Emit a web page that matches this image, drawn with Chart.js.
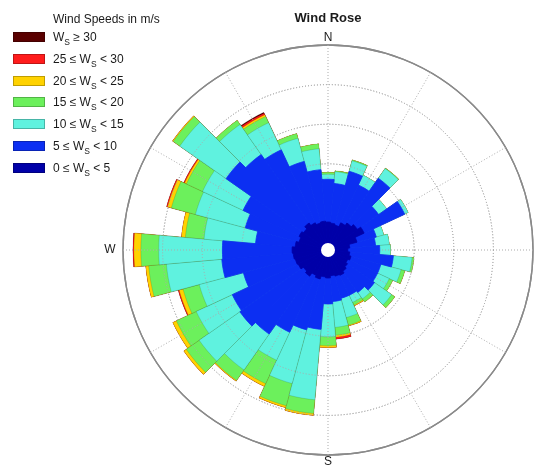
<!DOCTYPE html>
<html>
<head>
<meta charset="utf-8">
<title>Wind Rose</title>
<script src="https://cdn.jsdelivr.net/npm/chart.js@4.4.1/dist/chart.umd.min.js"></script>
<style>
  html, body { margin: 0; padding: 0; background: #fff; }
  #wrap { position: relative; width: 537px; height: 466px; overflow: hidden;
          font-family: "Liberation Sans", Arial, sans-serif; color: #1a1a1a; }
  #rose { position: absolute; left: 0; top: 0; }
  #title { position: absolute; left: 228px; width: 200px; top: 10px; text-align: center;
           font-weight: bold; font-size: 13px; line-height: 16px; }
  #legendTitle { position: absolute; left: 53px; top: 12px; font-size: 12px; line-height: 14px; white-space: nowrap; }
  .row { position: absolute; left: 13px; height: 12px; }
  .sw { position: absolute; left: 0; top: 0; width: 32px; height: 10px; box-sizing: border-box;
        border: 1px solid rgba(0,0,0,0.25); }
  .lab { position: absolute; left: 40px; top: -3px; font-size: 12px; line-height: 16px; white-space: nowrap; }
  .lab sub { font-size: 8.5px; vertical-align: -4px; line-height: 0; }
</style>
</head>
<body>
<div id="wrap">
  <canvas id="rose" width="537" height="466"></canvas>
  <div id="title">Wind Rose</div>
  <div id="legendTitle">Wind Speeds in m/s</div>
  <div id="legend"></div>
</div>
<script>
// Direction sectors (degrees, clockwise from north), 10° wide, centred on each value
const DIRECTIONS = [0,10,20,30,40,50,60,70,80,90,100,110,120,130,140,150,160,170,
                    180,190,200,210,220,230,240,250,260,270,280,290,300,310,320,330,340,350];

// Frequency (%) of each wind-speed class per direction sector
const FREQ_0_5   = [1.06,1.01,0.95,1.16,1.31,1.46,1.66,1.16,0.75,0.65,0.75,0.85,0.75,0.85,0.95,1.06,1.01,0.95,
                    1.06,1.01,1.16,1.06,1.26,1.16,1.31,1.36,1.41,1.46,1.31,1.16,1.26,1.16,1.31,1.16,1.06,1.11];
const FREQ_5_10  = [2.16,2.01,2.81,2.11,2.76,1.31,2.26,1.01,1.31,1.61,2.21,1.56,1.66,1.66,1.31,1.11,1.16,1.31,
                    1.31,2.66,2.66,3.17,3.57,3.92,3.67,2.71,3.62,3.52,2.01,2.81,3.12,4.77,4.22,4.07,3.22,2.61];
const FREQ_10_15 = [0.25,0.60,0.55,0.55,0.60,0.50,0.20,0.40,0.70,0.55,0.95,1.06,0.65,1.06,0.40,0.40,1.01,1.31,
                    1.66,3.57,2.81,1.56,2.21,2.51,2.01,2.31,2.81,3.22,2.61,2.61,2.26,2.86,1.86,1.51,1.21,1.06];
const FREQ_15_20 = [0.10,0.05,0.05,0,0.03,0,0,0,0,0,0.10,0.20,0.20,0.20,0.20,0.15,0.40,0.40,
                    0.45,0.70,1.16,1.31,0.65,0.80,1.11,0.85,0.90,0.90,0.95,1.26,0.90,0.40,0.25,0.35,0.25,0.25];
const FREQ_20_25 = [0,0,0,0,0,0,0,0,0,0,0,0,0,0,0,0.05,0.05,0.10,
                    0.10,0.10,0.10,0.15,0.05,0.15,0.20,0.20,0.15,0.35,0.20,0.20,0.10,0.05,0,0.10,0,0];
const FREQ_25_30 = [0,0,0,0,0,0,0,0,0,0,0,0,0,0,0,0,0,0.10,
                    0,0,0,0,0,0,0,0.05,0,0.05,0,0.05,0.05,0,0,0.08,0,0];
const FREQ_30_UP = [0,0,0,0,0,0,0,0,0,0,0,0,0,0,0,0,0,0,
                    0,0,0,0,0,0,0,0,0,0,0,0,0,0,0,0.05,0,0];

// Speed classes, slowest first
const SPEED_BINS   = [FREQ_0_5, FREQ_5_10, FREQ_10_15, FREQ_15_20, FREQ_20_25, FREQ_25_30, FREQ_30_UP];
const SPEED_LABELS = ['0 ≤ W<sub>S</sub> &lt; 5', '5 ≤ W<sub>S</sub> &lt; 10', '10 ≤ W<sub>S</sub> &lt; 15',
                      '15 ≤ W<sub>S</sub> &lt; 20', '20 ≤ W<sub>S</sub> &lt; 25', '25 ≤ W<sub>S</sub> &lt; 30',
                      'W<sub>S</sub> ≥ 30'];
const SPEED_COLORS = ['#0000a8', '#0c2ff2', '#5ff2df', '#6cf05c', '#ffd200', '#ff1c1c', '#5a0000'];

// Radial axis: frequency rings every 2 %, small empty hole in the middle
const RING_TICKS = [0, 2, 4, 6, 8, 10];
const R_MAX = 10;
const R_HOLE = 0.353;
const SPOKES = [0, 30, 60, 90, 120, 150, 180, 210, 240, 270, 300, 330];
const COMPASS = [['N', 0], ['S', 180], ['W', 270]];

const GRID_COLOR = '#ababab';
const RIM_COLOR = '#8a8a8a';

// Stack the classes: each ring of the rose reaches the cumulative frequency
const cumulative = [];
SPEED_BINS.forEach((bin, k) => {
  cumulative.push(bin.map((v, i) => (k ? cumulative[k - 1][i] : 0) + v));
});

const datasets = cumulative.map((vals, k) => ({
  label: SPEED_LABELS[k],
  data: vals,
  backgroundColor: SPEED_COLORS[k],
  borderColor: k < 2 ? SPEED_COLORS[k] : 'rgba(0,0,0,0.2)',
  borderWidth: (ctx) => (k < 2 ? 0.8 : (SPEED_BINS[k][ctx.dataIndex] > 0 ? 0.6 : 0))
}));

// Dotted grid is laid over the outer classes, under the two slowest ones
const roseOverlay = {
  id: 'roseOverlay',
  afterDatasetDraw(chart, args) {
    if (args.index !== 2) return;
    const r = chart.scales.r;
    const ctx = chart.ctx;
    r.drawGrid();
    const R = r.drawingArea;
    ctx.save();
    ctx.strokeStyle = GRID_COLOR;
    ctx.lineWidth = 1;
    ctx.setLineDash([1, 2]);
    SPOKES.forEach((deg) => {
      const a = deg * Math.PI / 180;
      ctx.beginPath();
      ctx.moveTo(r.xCenter, r.yCenter);
      ctx.lineTo(r.xCenter + Math.sin(a) * R, r.yCenter - Math.cos(a) * R);
      ctx.stroke();
    });
    ctx.restore();
  },
  afterDatasetsDraw(chart) {
    const r = chart.scales.r;
    const ctx = chart.ctx;
    ctx.save();
    ctx.fillStyle = '#ffffff';
    ctx.beginPath();
    ctx.arc(r.xCenter, r.yCenter, r.getDistanceFromCenterForValue(0), 0, Math.PI * 2);
    ctx.fill();
    ctx.fillStyle = '#1a1a1a';
    ctx.font = '12px "Liberation Sans", Arial, sans-serif';
    ctx.textAlign = 'center';
    ctx.textBaseline = 'middle';
    const R = r.drawingArea;
    COMPASS.forEach(([txt, deg]) => {
      const a = deg * Math.PI / 180;
      const off = txt === 'W' ? R + 13 : R + 7;
      ctx.fillText(txt, r.xCenter + Math.sin(a) * off, r.yCenter - Math.cos(a) * off);
    });
    ctx.restore();
  }
};

new Chart(document.getElementById('rose'), {
  type: 'polarArea',
  data: { labels: DIRECTIONS, datasets },
  plugins: [roseOverlay],
  options: {
    responsive: false,
    animation: false,
    layout: { padding: { left: 122.5, right: 3.5, top: 45, bottom: 10 } },
    plugins: { legend: { display: false }, tooltip: { enabled: false }, title: { display: false } },
    scales: {
      r: {
        min: -R_HOLE,
        max: R_MAX,
        startAngle: -5,
        afterBuildTicks: (scale) => { scale.ticks = RING_TICKS.map((v) => ({ value: v })); },
        ticks: { display: false },
        pointLabels: { display: false },
        angleLines: { display: false },
        grid: {
          circular: true,
          color: (c) => (c.index === RING_TICKS.length - 1 ? RIM_COLOR : GRID_COLOR),
          lineWidth: (c) => (c.index === RING_TICKS.length - 1 ? 1.3 : 1)
        },
        border: { dash: (c) => (c.index === RING_TICKS.length - 1 ? [] : [1, 2]) }
      }
    }
  }
});

// Legend, fastest class on top
const legend = document.getElementById('legend');
for (let k = SPEED_BINS.length - 1, row = 0; k >= 0; k--, row++) {
  const div = document.createElement('div');
  div.className = 'row';
  div.style.top = (32 + row * 21.8) + 'px';
  div.innerHTML = '<div class="sw" style="background:' + SPEED_COLORS[k] + '"></div>' +
                  '<div class="lab">' + SPEED_LABELS[k] + '</div>';
  legend.appendChild(div);
}
</script>
</body>
</html>
